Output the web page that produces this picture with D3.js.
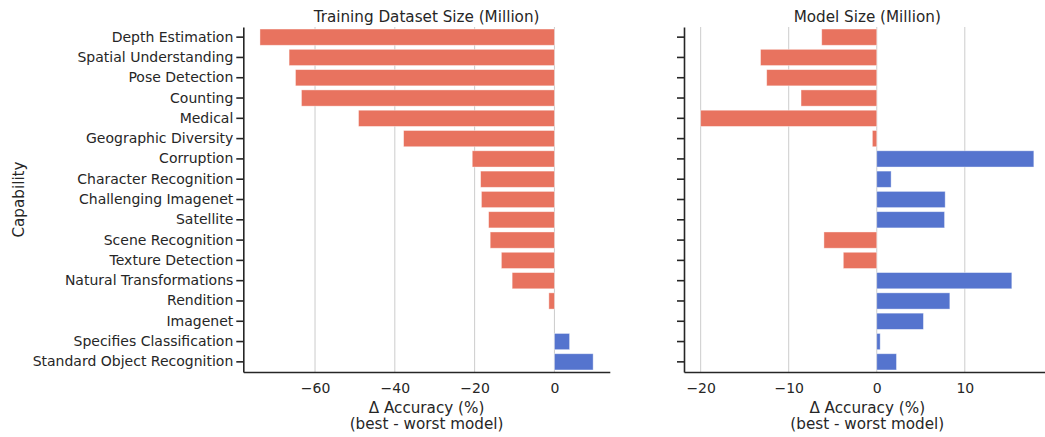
<!DOCTYPE html>
<html>
<head>
<meta charset="utf-8">
<script src="https://cdn.jsdelivr.net/npm/d3@7"></script>
<style>
  body { margin: 0; background: #fff; }
  svg { display: block; }
</style>
</head>
<body>
<svg width="1045" height="437"></svg>
<script>
// capabilities, top to bottom
const capabilities = [
  'Depth Estimation', 'Spatial Understanding', 'Pose Detection', 'Counting', 'Medical',
  'Geographic Diversity', 'Corruption', 'Character Recognition', 'Challenging Imagenet',
  'Satellite', 'Scene Recognition', 'Texture Detection', 'Natural Transformations',
  'Rendition', 'Imagenet', 'Specifies Classification', 'Standard Object Recognition'
]

// delta accuracy (best - worst model)
const datasetSizeDelta = [-73.8, -66.5, -64.9, -63.4, -49.1, -37.8, -20.6, -18.5, -18.3,
  -16.5, -16.1, -13.3, -10.6, -1.4, 0, 3.8, 9.7]
const modelSizeDelta = [-6.25, -13.2, -12.5, -8.6, -20.0, -0.5, 17.84, 1.63, 7.77,
  7.7, -6.0, -3.8, 15.34, 8.3, 5.3, 0.39, 2.24]

const panelTitles = ['Training Dataset Size (Million)', 'Model Size (Million)']
const leftTicks = [-60, -40, -20, 0]
const rightTicks = [-20, -10, 0, 10]

const negColor = '#e8735f'
const posColor = '#5574ce'
const textColor = '#262626'
const font = "'DejaVu Sans', sans-serif"
const tickFontSize = '14px'
const labelFontSize = '15.2px'

const svg = d3.select('svg')
const plotTop = 27
const plotBottom = 372

// shared y scale, same band for both panels
const y = d3.scaleBand()
  .domain(capabilities)
  .range([plotTop, plotBottom])
  .paddingInner(0.2)
  .paddingOuter(0.1)

drawPanel(datasetSizeDelta, [243.3, 609.8], leftTicks, panelTitles[0], true)
drawPanel(modelSizeDelta, [684, 1050.5], rightTicks, panelTitles[1], false)

// y axis label, only once on the left
addText(svg, 'Capability', 0, 0, labelFontSize)
  .attr('transform', `translate(24,${(plotTop + plotBottom) / 2}) rotate(-90)`)

//matplotlib style 5% margins around the data
function paddedDomain(values) {
  const lo = Math.min(0, d3.min(values))
  const hi = Math.max(0, d3.max(values))
  const pad = (hi - lo) * 0.05
  return [lo - pad, hi + pad]
}

function addText(parent, txt, x, yPos, size) {
  return parent.append('text')
    .attr('x', x)
    .attr('y', yPos)
    .attr('text-anchor', 'middle')
    .style('font-family', font)
    .style('font-size', size)
    .style('fill', textColor)
    .text(txt)
}

function drawPanel(values, xRange, ticks, title, showLabels) {
  const x = d3.scaleLinear().domain(paddedDomain(values)).range(xRange)
  const g = svg.append('g')

  // vertical grid lines
  g.selectAll('.grid')
    .data(ticks)
    .enter().append('line')
      .attr('class', 'grid')
      .attr('x1', d => x(d))
      .attr('x2', d => x(d))
      .attr('y1', plotTop)
      .attr('y2', plotBottom)
      .attr('stroke', '#cccccc')
      .attr('stroke-width', 1)

  // bars
  g.selectAll('.bar')
    .data(values)
    .enter().append('rect')
      .attr('class', 'bar')
      .attr('x', d => x(Math.min(0, d)))
      .attr('width', d => Math.abs(x(d) - x(0)))
      .attr('y', (d, i) => y(capabilities[i]))
      .attr('height', y.bandwidth())
      .attr('fill', d => d < 0 ? negColor : posColor)
      .attr('stroke', '#ffffff')
      .attr('stroke-opacity', 0.5)
      .attr('stroke-width', 0.8)

  // x axis, no tick marks
  const xAxis = g.append('g')
    .attr('transform', `translate(0,${plotBottom})`)
    .call(d3.axisBottom(x).tickValues(ticks).tickSize(0).tickPadding(11).tickFormat(d3.format('d')))
  xAxis.select('.domain').attr('stroke', textColor).attr('stroke-width', 1.6)
  xAxis.selectAll('.tick text')
    .style('font-family', font)
    .style('font-size', tickFontSize)
    .style('fill', textColor)
    .text(d => d < 0 ? '\u2212' + Math.abs(d) : d)

  // y axis
  const yAxis = g.append('g')
    .attr('transform', `translate(${xRange[0]},0)`)
    .call(d3.axisLeft(y).tickSize(7).tickPadding(3).tickSizeOuter(0))
  yAxis.select('.domain').attr('stroke', textColor).attr('stroke-width', 1.6)
  yAxis.selectAll('.tick line').attr('stroke', textColor).attr('stroke-width', 1.6)
  yAxis.selectAll('.tick text')
    .style('font-family', font)
    .style('font-size', tickFontSize)
    .style('fill', textColor)
  if (!showLabels) yAxis.selectAll('.tick text').remove()

  const mid = (xRange[0] + xRange[1]) / 2

  addText(g, title, mid, 21.5, labelFontSize)
  addText(g, '\u0394 Accuracy (%)', mid, 412.5, labelFontSize)
  addText(g, '(best - worst model)', mid, 429, labelFontSize)
}
</script>
</body>
</html>
